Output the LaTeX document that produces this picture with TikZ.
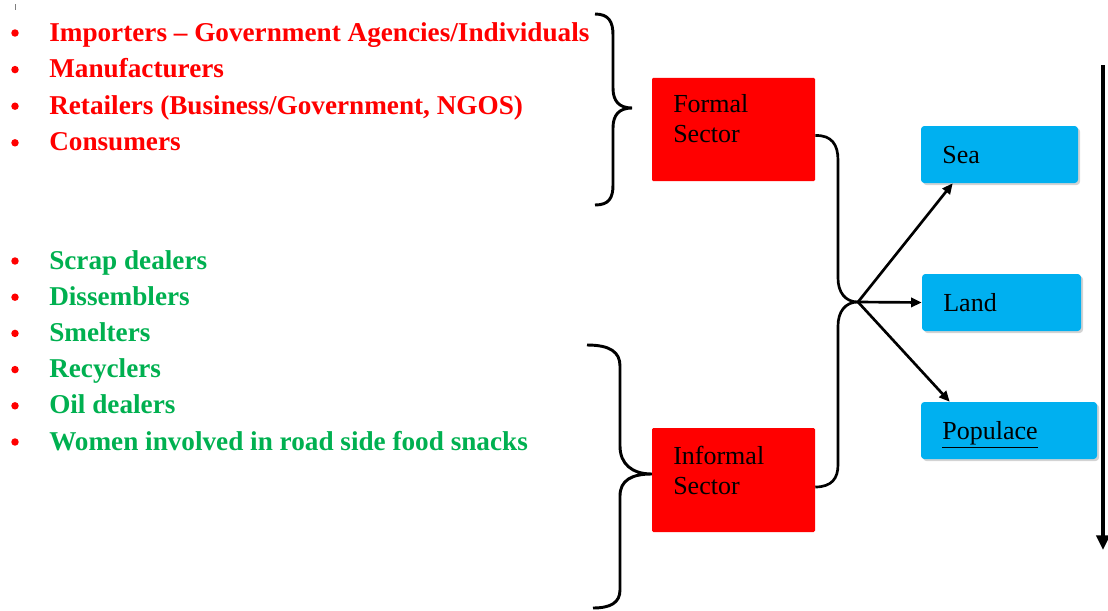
\documentclass[tikz,border=0pt]{standalone}
\usepackage{fontspec}
\setmainfont{Liberation Serif}
\usetikzlibrary{arrows.meta, calc, shadows}
\definecolor{msred}{HTML}{FF0000}
\definecolor{msgreen}{HTML}{00B050}
\definecolor{msblue}{HTML}{00B0F0}

\begin{document}
\begin{tikzpicture}[
    x=0.75pt, y=-0.75pt,
    >={Triangle[length=8pt, width=7pt]},
    redlist/.style={anchor=base west, inner sep=0pt, text=msred,
      font=\fontsize{20.4}{24}\selectfont\bfseries},
    grnlist/.style={anchor=base west, inner sep=0pt, text=msgreen,
      font=\fontsize{20.4}{24}\selectfont\bfseries},
    redbox/.style={fill=msred, rounded corners=1pt, minimum width=122.25pt,
      minimum height=77.6pt, inner sep=0pt},
    boxtxt/.style={anchor=west, inner sep=0pt, align=left,
      font=\fontsize{19.5}{22.5}\selectfont},
    blubox/.style={fill=msblue, rounded corners=2.5pt, minimum height=42.75pt,
      inner xsep=16pt, inner ysep=0pt, align=left,
      text height=17.5pt, text depth=4pt,
      font=\fontsize{19.5}{22}\selectfont,
      drop shadow={shadow xshift=1.5pt, shadow yshift=-1.5pt, opacity=0.35}},
    link/.style={black, line width=2pt},
  ]

  % ══════════════════════════════════════════════════════
  % Canvas
  % ══════════════════════════════════════════════════════
  \useasboundingbox (0,0) rectangle (1108,611);
  \draw[gray, line width=0.6pt] (15,4) -- (15,10);

  % ══════════════════════════════════════════════════════
  % Formal actors (red list)
  % ══════════════════════════════════════════════════════
  \foreach \txt [count=\i] in {Importers – Government Agencies/Individuals,
      Manufacturers, {Retailers (Business/Government, NGOS)}, Consumers}{
    \pgfmathsetmacro{\yy}{33+36.6*(\i-1)}
    \fill[msred] (15,\yy) circle[radius=2.8pt];
    \node[redlist] (fml\i) at (49,\yy+8) {\txt};
  }

  % ══════════════════════════════════════════════════════
  % Informal actors (green list, red bullets)
  % ══════════════════════════════════════════════════════
  \foreach \txt [count=\i] in {Scrap dealers, Dissemblers, Smelters,
      Recyclers, Oil dealers, Women involved in road side food snacks}{
    \pgfmathsetmacro{\yy}{261+36.2*(\i-1)}
    \fill[msred] (15,\yy) circle[radius=2.8pt];
    \node[grnlist] (inf\i) at (49,\yy+8) {\txt};
  }

  % ══════════════════════════════════════════════════════
  % Sector boxes
  % ══════════════════════════════════════════════════════
  \node[redbox] (formal) at (733.5,129.5) {};
  \node[boxtxt] (formaltxt) at (673,119) {Formal\\Sector};

  \node[redbox, minimum height=78pt] (informal) at (733.5,480) {};
  \node[boxtxt] (informaltxt) at (673,470) {Informal\\Sector};

  % ══════════════════════════════════════════════════════
  % Receiving environment boxes
  % ══════════════════════════════════════════════════════
  \node[blubox, text width=85.75pt] (sea) at (999.5,154.5) {Sea};
  \node[blubox, text width=87.25pt] (land) at (1001.5,302.5) {Land};
  \node[blubox, text width=100pt] (popl) at (1009,430.5) {\underline{Populace}};

  % ══════════════════════════════════════════════════════
  % Grouping braces (lists -> sectors)
  % ══════════════════════════════════════════════════════
  % upper brace, tip at (632,108)
  \draw[link, line width=2.2pt]
    (595,14) .. controls (609,14) and (613,22) .. (613,35)
    -- (613,88) .. controls (613,101) and (619,108) .. (632,108)
    .. controls (619,108) and (613,115) .. (613,128)
    -- (613,185) .. controls (613,198) and (609,205) .. (595,205);

  % lower brace, tip on the informal box
  \coordinate (inftip) at ($(informal.west)+(0,-6)$);
  \draw[link, line width=2.2pt]
    (587,345) .. controls (610,345) and (620,352) .. (620,366)
    -- (620,446) .. controls (620,464) and (632,474) .. (inftip)
    .. controls (632,474) and (620,480) .. (620,496)
    -- (620,590) .. controls (620,603) and (610,608) .. (593,608);

  % ══════════════════════════════════════════════════════
  % Sectors merge into one junction
  % ══════════════════════════════════════════════════════
  \coordinate (junc) at (858,302);

  \draw[link]
    ($(formal.east)+(0,6)$) .. controls (832,135) and (838,145) .. (838,160)
    -- (838,278) .. controls (838,292) and (845,302) .. (junc);
  \draw[link]
    ($(informal.east)+(0,7)$) .. controls (832,487) and (838,478) .. (838,465)
    -- (838,326) .. controls (838,312) and (845,302) .. (junc);

  % ══════════════════════════════════════════════════════
  % Junction -> environments
  % ══════════════════════════════════════════════════════
  \draw[link, ->] (junc) -- ($(sea.south west)+(32,0)$);
  \draw[link, ->] (junc) -- (land.west);
  \draw[link, ->] (junc) -- ($(popl.north west)+(29,0)$);

  % ══════════════════════════════════════════════════════
  % Right-hand downward arrow
  % ══════════════════════════════════════════════════════
  \coordinate (dtop) at (1103,65);
  \coordinate (dbot) at (1103,550);
  \draw[black, line width=2.4pt, -{Triangle[length=11pt, width=10pt]}]
    (dtop) -- (dbot);

\end{tikzpicture}
\end{document}
